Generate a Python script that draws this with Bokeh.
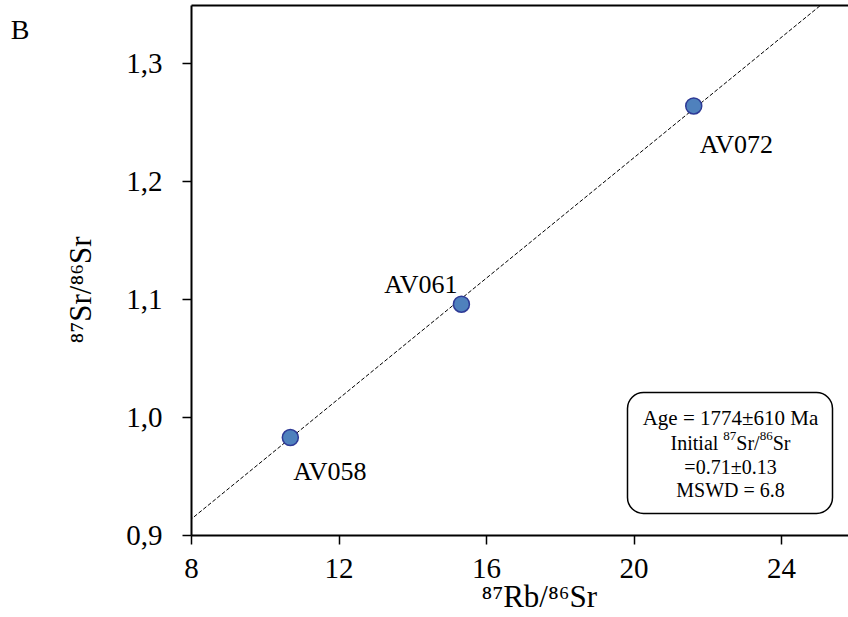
import math
from bokeh.plotting import figure
from bokeh.models import (Range1d, LinearAxis, FixedTicker, CustomJSTickFormatter,
                          Label, BoxAnnotation, ColumnDataSource)
from bokeh.embed import file_html
from bokeh.resources import INLINE

# ---------------- data ----------------
sample_names = ["AV058", "AV061", "AV072"]
rb_sr = [10.68, 15.32, 21.62]          # 87Rb/86Sr
sr_sr = [0.983, 1.096, 1.264]          # 87Sr/86Sr
x_ticks = [8, 12, 16, 20, 24]
y_ticks = [0.9, 1.0, 1.1, 1.2, 1.3]
age_ma = 1774.0
initial_ratio = 0.71
decay_const = 1.42e-11
iso_x = [0.0, 30.0]

slope = math.exp(decay_const * age_ma * 1e6) - 1.0
iso_y = [initial_ratio + slope * v for v in iso_x]

# ---------------- layout ----------------
FONT = "Liberation Serif"
W, H = 848, 617
FRAME_L, FRAME_R, FRAME_T, FRAME_B = 191, 848, 5, 535
X0, X1 = 8.0, 8.0 + (FRAME_R - FRAME_L) / 36.875
Y0, Y1 = 0.9, 0.9 + (FRAME_B - FRAME_T) / 1180.0
SX = (FRAME_R - FRAME_L) / (X1 - X0)
SY = (FRAME_B - FRAME_T) / (Y1 - Y0)
PAD = "\u00a0" * 5   # shifts the centred axis titles towards their reference spot


def px2x(px):  # canvas px -> data
    return X0 + (px - FRAME_L) / SX


def px2y(py):
    return Y0 + (FRAME_B - py) / SY


p = figure(width=W, height=H, x_range=Range1d(X0, X1), y_range=Range1d(Y0, Y1),
           output_backend="svg", toolbar_location=None,
           min_border_left=FRAME_L, min_border_right=0, min_border_top=FRAME_T,
           min_border_bottom=H - FRAME_B, background_fill_color="white",
           border_fill_color="white")
p.outline_line_color = None
p.grid.visible = False

for ax in (p.xaxis[0], p.yaxis[0]):
    ax.axis_line_width = 2
    ax.axis_line_color = "black"
    ax.major_tick_line_width = 1.5
    ax.major_tick_line_color = "black"
    ax.major_tick_out = 9
    ax.major_tick_in = 0
    ax.minor_tick_out = 0
    ax.minor_tick_in = 0
    ax.major_label_text_font = FONT
    ax.major_label_text_font_size = "29px"
    ax.major_label_text_color = "black"
    ax.axis_label_text_font = FONT
    ax.axis_label_text_font_size = "31px"
    ax.axis_label_text_font_style = "normal"
    ax.axis_label_text_color = "black"

p.xaxis[0].ticker = FixedTicker(ticks=x_ticks)
p.xaxis[0].major_label_standoff = 14
p.xaxis[0].axis_label = PAD + "\u2078\u2077Rb/\u2078\u2076Sr"
p.xaxis[0].axis_label_standoff = -2
p.yaxis[0].ticker = FixedTicker(ticks=y_ticks)
p.yaxis[0].major_label_standoff = 20
p.yaxis[0].formatter = CustomJSTickFormatter(code="return tick.toFixed(1).replace('.', ',');")
p.yaxis[0].axis_label = "\u2078\u2077Sr/\u2078\u2076Sr" + PAD
p.yaxis[0].axis_label_standoff = 25

top = LinearAxis(ticker=FixedTicker(ticks=[]), major_label_text_font_size="0px",
                 major_tick_out=0, major_tick_in=0, minor_tick_out=0, minor_tick_in=0,
                 axis_line_width=2, axis_line_color="black", major_label_standoff=0)
p.add_layout(top, "above")

# panel letter "B": a bare outer left axis carrying a single label
B_Y = px2y(28.5)
letter_axis = LinearAxis(ticker=FixedTicker(ticks=[B_Y]),
                         formatter=CustomJSTickFormatter(code="return 'B';"),
                         axis_line_color=None, major_tick_line_color=None,
                         major_tick_out=0, major_tick_in=0, minor_tick_out=0,
                         minor_tick_in=0, major_label_standoff=31,
                         major_label_text_font=FONT, major_label_text_font_size="28px",
                         major_label_text_color="black")
p.add_layout(letter_axis, "left")

# isochron
p.line(iso_x, iso_y, line_color="black", line_width=1, line_dash="4 2")

# points
src = ColumnDataSource(dict(x=rb_sr, y=sr_sr, name=sample_names))
p.scatter("x", "y", source=src, size=16, fill_color="#4F81BD",
          line_color="#2E3A96", line_width=1.5)

# point labels (pixel offsets relative to each point)
label_offsets = [(3, 34, "left"), (-4, -20, "right"), (6, 39, "left")]
for xv, yv, nm, (dx, dy, al) in zip(rb_sr, sr_sr, sample_names, label_offsets):
    p.add_layout(Label(x=xv + dx / SX, y=yv - dy / SY, text=nm, text_font=FONT,
                       text_font_size="26px", text_align=al,
                       text_baseline="alphabetic", text_color="black"))

# ---------- rich text helper ----------
CW = {"0": .5, "1": .5, "2": .5, "3": .5, "4": .5, "5": .5, "6": .5, "7": .5,
      "8": .5, "9": .5, "R": .667, "b": .5, "/": .278, "S": .556, "r": .333,
      "I": .333, "n": .5, "i": .278, "t": .278, "a": .444, "l": .278, " ": .25}


def text_w(t, size):
    return sum(CW.get(c, .5) for c in t) * size


def rich(pieces, center, baseline, main, sup, rise):
    total = sum(text_w(t, sup if s else main) for t, s in pieces)
    pos = center - total / 2
    for t, s in pieces:
        size = sup if s else main
        w = text_w(t, size)
        py = baseline - (rise if s else 0)
        p.add_layout(Label(x=px2x(pos), y=px2y(py), text=t, text_font=FONT,
                           text_font_size=f"{size}px", text_align="left",
                           text_baseline="alphabetic", text_color="black"))
        pos += w


# annotation box
p.add_layout(BoxAnnotation(left=px2x(627), right=px2x(832), top=px2y(392),
                           bottom=px2y(513), fill_color="white", fill_alpha=1,
                           line_color="black", line_alpha=1, line_width=1.5,
                           border_radius=16))
CX = 730
for txt, base, fs in [(f"Age = {int(age_ma)}\u00b1610 Ma", 417, 21),
                      (f"={initial_ratio:.2f}\u00b10.13", 466, 20),
                      ("MSWD = 6.8", 489, 20)]:
    p.add_layout(Label(x=px2x(CX), y=px2y(base), text=txt, text_font=FONT,
                       text_font_size=f"{fs}px", text_align="center",
                       text_baseline="alphabetic", text_color="black"))
rich([("Initial ", False), ("87", True), ("Sr/", False), ("86", True), ("Sr", False)],
     center=CX, baseline=442, main=20, sup=13, rise=7)

open("out.html", "w").write(file_html(p, INLINE))
